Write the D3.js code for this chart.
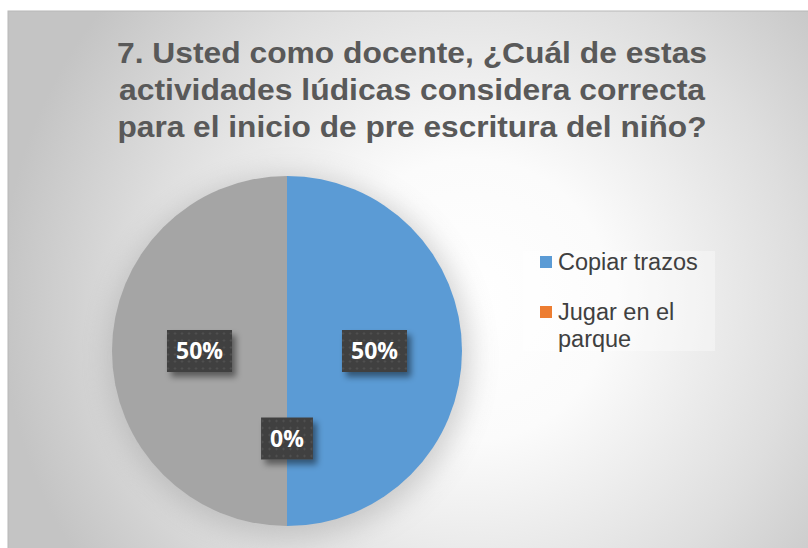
<!DOCTYPE html>
<html>
<head>
<meta charset="utf-8">
<script src="https://cdn.jsdelivr.net/npm/d3@7"></script>
<style>
  html, body { margin: 0; padding: 0; background: #fff; }
  svg { display: block; }
</style>
</head>
<body>
<svg id="chart"></svg>
<script>
// data
const categories = ['Copiar trazos', 'Jugar en el parque', 'Otras actividades']
const values = [50, 0, 50]
const colors = ['#5B9BD5', '#ED7D31', '#A5A5A5']
const legendShown = 2 // legend in the picture is cut after two entries
const titleLines = [
  '7. Usted como docente, ¿Cuál de estas',
  'actividades lúdicas considera correcta',
  'para el inicio de pre escritura del niño?'
]

let w = 808, h = 548
let cx = 287, cy = 351, r = 175

let svg = d3.select('#chart').attr('width', w).attr('height', h)
let defs = svg.append('defs')

// chart background, radial grey gradient
let grad = defs.append('radialGradient').attr('id', 'bg')
  .attr('gradientUnits', 'userSpaceOnUse')
  .attr('cx', 470).attr('cy', 300).attr('r', 470)
grad.append('stop').attr('offset', 0).attr('stop-color', '#ffffff')
grad.append('stop').attr('offset', 0.3).attr('stop-color', '#fbfbfb')
grad.append('stop').attr('offset', 0.7).attr('stop-color', '#dedede')
grad.append('stop').attr('offset', 1).attr('stop-color', '#c4c4c4')

let blur = defs.append('filter').attr('id', 'glow')
  .attr('x', '-30%').attr('y', '-30%').attr('width', '160%').attr('height', '160%')
blur.append('feGaussianBlur').attr('stdDeviation', 14)

let shadow = defs.append('filter').attr('id', 'shadow')
  .attr('x', '-30%').attr('y', '-30%').attr('width', '160%').attr('height', '170%')
shadow.append('feDropShadow').attr('dx', 4).attr('dy', 5)
  .attr('stdDeviation', 3).attr('flood-color', '#000').attr('flood-opacity', 0.45)

// dotted texture of the data label boxes
let pat = defs.append('pattern').attr('id', 'dots')
  .attr('patternUnits', 'userSpaceOnUse').attr('width', 7).attr('height', 7)
pat.append('rect').attr('width', 7).attr('height', 7).attr('fill', '#404040')
pat.append('circle').attr('cx', 3.5).attr('cy', 3.5).attr('r', 1).attr('fill', '#555')

svg.append('rect')
  .attr('x', 8).attr('y', 11).attr('width', w).attr('height', h)
  .attr('fill', 'url(#bg)')
  .attr('stroke', '#b8b8b8').attr('stroke-width', 1)

// title, each line squeezed to the width it has in the picture
let titleWidths = [590, 586, 589]
svg.append('g').selectAll('text')
  .data(titleLines).enter()
  .append('text')
  .attr('x', 412)
  .attr('y', (d, i) => 63 + i * 37)
  .attr('text-anchor', 'middle')
  .attr('font-family', '"Liberation Sans", Arial, sans-serif')
  .attr('font-weight', 'bold')
  .attr('font-size', 30)
  .attr('fill', '#595959')
  .attr('textLength', (d, i) => titleWidths[i])
  .attr('lengthAdjust', 'spacingAndGlyphs')
  .text(d => d)

// soft halo round the pie
svg.append('circle')
  .attr('cx', cx + 2).attr('cy', cy + 6).attr('r', r + 6)
  .attr('fill', '#9a9a9a').attr('opacity', 0.45)
  .attr('filter', 'url(#glow)')

let pie = d3.pie().sort(null).value(d => d)
let arcs = pie(values)
let arc = d3.arc().innerRadius(0).outerRadius(r)

let g = svg.append('g').attr('transform', `translate(${cx},${cy})`)
g.selectAll('path')
  .data(arcs).enter()
  .append('path')
  .attr('d', arc)
  .attr('fill', (d, i) => colors[i])

// data labels
let labels = g.selectAll('g.lbl')
  .data(arcs).enter()
  .append('g').attr('class', 'lbl')
  .attr('transform', d => `translate(${arc.centroid(d)})`)

labels.append('text')
  .attr('text-anchor', 'middle')
  .attr('dy', '0.36em')
  .attr('font-family', '"Open Sans", "DejaVu Sans", sans-serif')
  .attr('font-weight', 'bold')
  .attr('font-size', 23)
  .attr('fill', '#fff')
  .text(d => d.value + '%')

labels.each(function () {
  let t = d3.select(this).select('text')
  let tw = t.node().getComputedTextLength() + 18
  d3.select(this).insert('rect', 'text')
    .attr('x', -tw / 2).attr('y', -21)
    .attr('width', tw).attr('height', 42)
    .attr('fill', 'url(#dots)')
    .attr('filter', 'url(#shadow)')
})

// legend
svg.append('rect')
  .attr('x', 523).attr('y', 251).attr('width', 192).attr('height', 100)
  .attr('fill', '#fff').attr('opacity', 0.35)

let legendLines = [['Copiar trazos'], ['Jugar en el', 'parque']]
let leg = svg.append('g').selectAll('g')
  .data(categories.slice(0, legendShown)).enter()
  .append('g')
  .attr('transform', (d, i) => `translate(540,${256 + i * 50})`)

leg.append('rect')
  .attr('width', 12).attr('height', 12)
  .attr('fill', (d, i) => colors[i])

leg.append('text')
  .attr('font-family', '"Liberation Sans", Arial, sans-serif')
  .attr('font-size', 23.5)
  .attr('fill', '#404040')
  .selectAll('tspan')
  .data((d, i) => legendLines[i]).enter()
  .append('tspan')
  .attr('x', 18)
  .attr('y', (d, j) => 14 + j * 27)
  .text(d => d)
</script>
</body>
</html>
